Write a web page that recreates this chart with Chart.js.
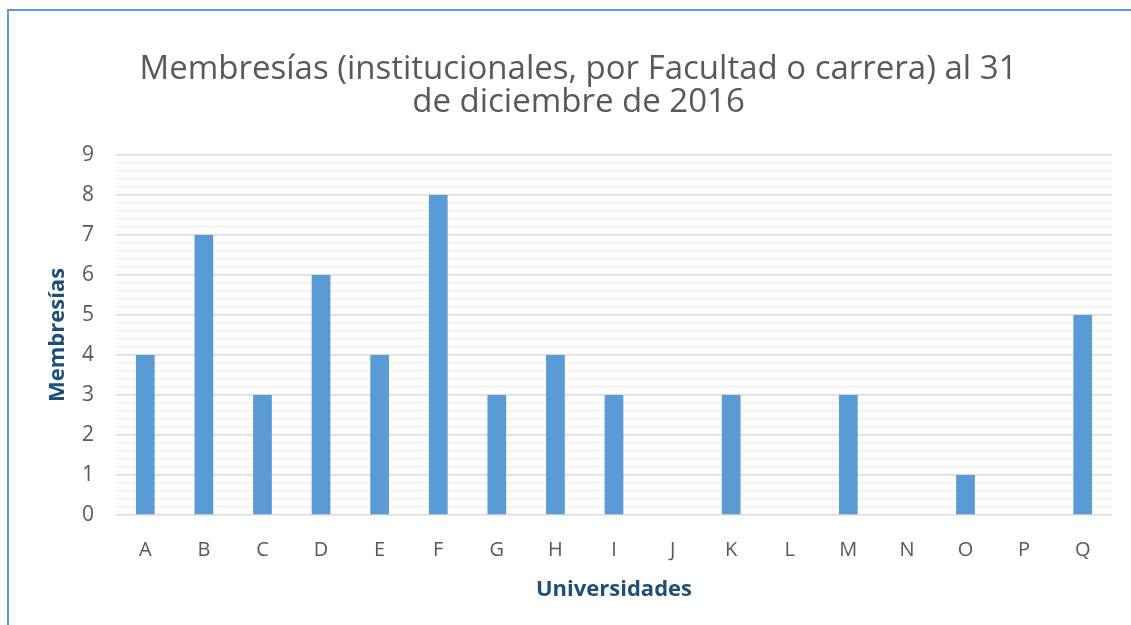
<!DOCTYPE html>
<html>
<head>
<meta charset="utf-8">
<script src="https://cdn.jsdelivr.net/npm/chart.js@4"></script>
<style>
  html, body { margin: 0; padding: 0; background: #fff; }
  #wrap { position: relative; width: 1131px; height: 625px; overflow: hidden; }
  #frame { position: absolute; left: 7px; top: 9px; width: 1200px; height: 700px;
           border-left: 2px solid #5b9bd5; border-top: 2px solid #5b9bd5; pointer-events: none; }
  canvas { position: absolute; left: 0; top: 0; }
</style>
</head>
<body>
<div id="wrap">
  <canvas id="c" width="1131" height="625"></canvas>
  <div id="frame"></div>
</div>
<script>
const categories = ['A','B','C','D','E','F','G','H','I','J','K','L','M','N','O','P','Q'];
const membresias = [4, 7, 3, 6, 4, 8, 3, 4, 3, 0, 3, 0, 3, 0, 1, 0, 5];
const titleLines = ['Membresías (institucionales, por Facultad o carrera) al 31', 'de diciembre de 2016'];
const yTitle = 'Membresías';
const xTitle = 'Universidades';
const yMin = 0, yMax = 9, minorStep = 0.2;

const FONT = '"Open Sans", sans-serif';
const isMajor = v => Math.abs(v - Math.round(v)) < 1e-6;

new Chart(document.getElementById('c'), {
  type: 'bar',
  data: {
    labels: categories,
    datasets: [{
      label: yTitle,
      data: membresias,
      backgroundColor: '#5b9bd5',
      borderWidth: 0,
      categoryPercentage: 1,
      barPercentage: 0.32
    }]
  },
  options: {
    responsive: false,
    animation: false,
    layout: { padding: { left: 45, right: 19, top: 0, bottom: 22 } },
    plugins: {
      legend: { display: false },
      tooltip: { enabled: false },
      title: {
        display: true,
        text: titleLines,
        color: '#595959',
        font: { family: FONT, size: 33, weight: 'normal', lineHeight: 1.0 },
        padding: { top: 53, bottom: 36 }
      }
    },
    scales: {
      x: {
        grid: { display: false },
        border: { display: false },
        ticks: { color: '#595959', font: { family: FONT, size: 20 }, padding: 15 },
        title: { display: true, text: xTitle, color: '#1f4e79',
                 font: { family: FONT, size: 22, weight: 'bold' }, padding: { top: 5, bottom: 0 } },
        afterFit: s => { s.height = 88; }
      },
      y: {
        min: yMin, max: yMax,
        border: { display: false },
        grid: {
          drawTicks: false,
          color: ctx => isMajor(ctx.tick.value) ? '#d9d9d9' : '#f0f0f0',
          lineWidth: 1.5
        },
        ticks: {
          stepSize: minorStep,
          autoSkip: false,
          color: '#595959',
          font: { family: FONT, size: 21 },
          padding: 22,
          callback: v => isMajor(v) ? String(Math.round(v)) : ''
        },
        title: { display: true, text: yTitle, color: '#1f4e79',
                 font: { family: FONT, size: 22, weight: 'bold' }, padding: { top: 0, bottom: 0 } },
        afterFit: s => { s.width = 71; }
      }
    }
  }
});
</script>
</body>
</html>
